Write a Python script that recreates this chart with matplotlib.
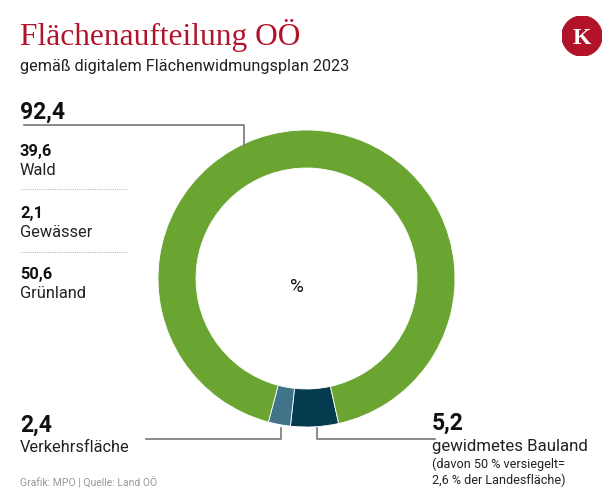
import matplotlib
matplotlib.use("Agg")
import matplotlib.pyplot as plt
from matplotlib.lines import Line2D
from matplotlib.patches import Circle

# data
segments = ["gewidmetes Bauland", "Verkehrsfläche", "Grünland/Wald/Gewässer"]
shares = [5.2, 2.4, 92.4]
colors = ["#053b4f", "#417389", "#6aa532"]
sub_labels = ["Wald", "Gewässer", "Grünland"]
sub_values = ["39,6", "2,1", "50,6"]

W, H = 616, 502
plt.rcParams['font.family'] = ['Roboto', 'DejaVu Sans']
fig = plt.figure(figsize=(W / 100, H / 100), dpi=100)
fig.patch.set_facecolor("white")

def px(x, y):
    return x / W, 1 - y / H

def txt(x, y, s, size, **kw):
    fig.text(*px(x, y), s, fontsize=size, va="baseline", **kw)

def line(xs, ys, **kw):
    fig.add_artist(Line2D([x / W for x in xs], [1 - y / H for y in ys],
                          transform=fig.transFigure, **kw))

# donut
cx, cy, R, ring = 306.5, 279.5, 148.5, 38
ax = fig.add_axes([(cx - R) / W, 1 - (cy + R) / H, 2 * R / W, 2 * R / H])
ax.pie(shares, colors=colors, startangle=-77.5, counterclock=False, radius=1,
       wedgeprops=dict(width=ring / R, edgecolor="white", linewidth=0.6))
ax.set_xlim(-1, 1)
ax.set_ylim(-1, 1)
ax.set_aspect("equal")
ax.axis("off")
fig.text(*px(297, 287), "%", fontsize=13.5, ha="center", va="center", color="#111")

# title + logo
red = "#b3132a"
txt(20, 45, "Flächenaufteilung OÖ", 22.6, color=red, family="Liberation Serif")
txt(20, 71, "gemäß digitalem Flächenwidmungsplan 2023", 11.7, color="#222")
logo = fig.add_axes([562 / W, 1 - 57 / H, 40 / W, 40 / H])
logo.add_patch(Circle((0.5, 0.5), 0.5, color=red))
logo.text(0.5, 0.47, "K", color="white", fontsize=17, ha="center", va="center",
          family="Liberation Serif", fontweight="bold")
logo.set_xlim(0, 1)
logo.set_ylim(0, 1)
logo.axis("off")

# green total and its parts
txt(20, 119, "92,4", 16.5, fontweight="bold", color="#111")
line([24, 244, 244], [126, 126, 146], color="#777", lw=1.2)
base = [156, 218, 279]
for val, lab, b in zip(sub_values, sub_labels, base):
    txt(20, b, val, 11.8, fontweight="bold", color="#111")
    txt(20, b + 19, lab, 11.8, color="#222")
for y in [190, 253]:
    line([21, 128], [y, y], color="#bbb", lw=0.8, ls=(0, (1, 1)))

# bottom labels
txt(20, 432, "2,4", 16.5, fontweight="bold", color="#111")
txt(20, 452, "Verkehrsfläche", 11.8, color="#222")
line([146, 281, 281], [440, 440, 429], color="#777", lw=1.2)

txt(432, 430, "5,2", 16.5, fontweight="bold", color="#111")
txt(432, 451, "gewidmetes Bauland", 12.1, color="#222")
txt(432, 468, "(davon 50 % versiegelt=", 9.1, color="#222")
txt(432, 484, "2,6 % der Landesfläche)", 9.1, color="#222")
line([317, 317, 435], [429, 440, 440], color="#777", lw=1.2)

txt(20, 487, "Grafik: MPO | Quelle: Land OÖ", 7.5, color="#999")

fig.savefig("out.png", dpi=100, facecolor="white")
